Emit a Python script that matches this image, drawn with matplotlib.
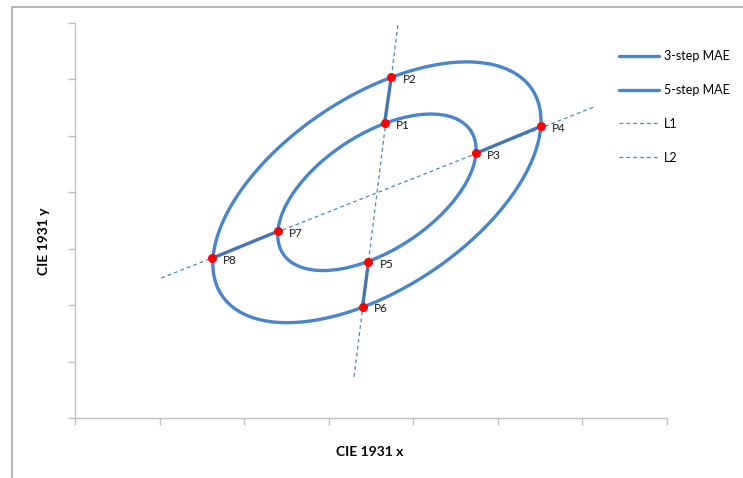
import matplotlib
matplotlib.use("Agg")
import matplotlib.pyplot as plt
from matplotlib.patches import Ellipse, Rectangle
import numpy as np

plt.rcParams['font.family'] = ['Lato', 'DejaVu Sans']

# ellipses: centre, width, height, angle (data units)
ellipse_names = ['3-step MAE', '5-step MAE']
ellipse_center = [(3.57, 4.00), (3.57, 4.00)]
ellipse_width = [3.21, 5.34]
ellipse_height = [1.70, 2.81]
ellipse_angle = [53.6, 53.9]

# named points
point_names = ['P1', 'P2', 'P3', 'P4', 'P5', 'P6', 'P7', 'P8']
point_x = [3.66, 3.74, 4.74, 5.51, 3.47, 3.40, 2.40, 1.62]
point_y = [5.22, 6.04, 4.69, 5.17, 2.76, 1.97, 3.31, 2.83]

# segments joining inner and outer points
segments = [('P1', 'P2'), ('P3', 'P4'), ('P5', 'P6'), ('P7', 'P8')]

# guide lines
line_names = ['L1', 'L2']
line_x = [[3.30, 3.82], [1.02, 6.15]]
line_y = [[0.73, 6.99], [2.48, 5.52]]

blue = '#4a84cc'
axis_gray = '#bfbfbf'

fig = plt.figure(figsize=(7.43, 4.78), dpi=100)
ax = fig.add_axes([75 / 743, 60 / 478, 592 / 743, 395 / 478])

# chart area border
fig.patches.append(Rectangle((12 / 743, -0.05), 1.1, (478 - 7) / 478 + 0.05,
                             transform=fig.transFigure, fill=False,
                             edgecolor='#a6a6a6', linewidth=1.2))

# unit circle, mapped onto each ellipse by the patch transform
t = np.linspace(0, 2 * np.pi, 361)
unit = np.column_stack([np.cos(t), np.sin(t)])
for name, c, w, h, a in zip(ellipse_names, ellipse_center, ellipse_width,
                            ellipse_height, ellipse_angle):
    e = Ellipse(c, w, h, angle=a)
    pts = e.get_patch_transform().transform(unit)
    ax.plot(pts[:, 0], pts[:, 1], color=blue, lw=2.4, label=name,
            solid_capstyle='round', solid_joinstyle='round', zorder=3)

for name, xs, ys in zip(line_names, line_x, line_y):
    ax.plot(xs, ys, color=blue, lw=0.9, ls=(0, (3, 2.5)), label=name, zorder=2)

pos = dict(zip(point_names, zip(point_x, point_y)))
for a, b in segments:
    ax.plot([pos[a][0], pos[b][0]], [pos[a][1], pos[b][1]],
            color='#4674b4', lw=2.4, zorder=3)

ax.plot(point_x, point_y, 'o', color='red', ms=5.5, mec='red', zorder=5)
for n, x, y in zip(point_names, point_x, point_y):
    ax.annotate(n, (x, y), xytext=(8, -4), textcoords='offset points',
                fontsize=8.5, color='#1a1a1a', zorder=6)

ax.set_xlim(0, 7)
ax.set_ylim(0, 7)
ax.set_xticks(np.arange(0, 8))
ax.set_yticks(np.arange(0, 8))
ax.set_xticklabels([])
ax.set_yticklabels([])
ax.tick_params(direction='out', length=5, color=axis_gray, width=1)
for s in ['top', 'right']:
    ax.spines[s].set_visible(False)
for s in ['left', 'bottom']:
    ax.spines[s].set_color(axis_gray)
    ax.spines[s].set_linewidth(1)

fig.text(370 / 743, 1 - 452 / 478, 'CIE 1931 x', ha='center', va='center',
         fontsize=10, fontweight='bold')
fig.text(44 / 743, 1 - 241 / 478, 'CIE 1931 y', ha='center', va='center',
         fontsize=10, fontweight='bold', rotation=90)

ax.legend(loc='upper left', bbox_to_anchor=(614 / 743, 1 - 45 / 478),
          bbox_transform=fig.transFigure, frameon=False, fontsize=9,
          handlelength=3.2, handletextpad=0.4, labelspacing=1.75,
          borderaxespad=0)

fig.savefig('out.png', dpi=100)
